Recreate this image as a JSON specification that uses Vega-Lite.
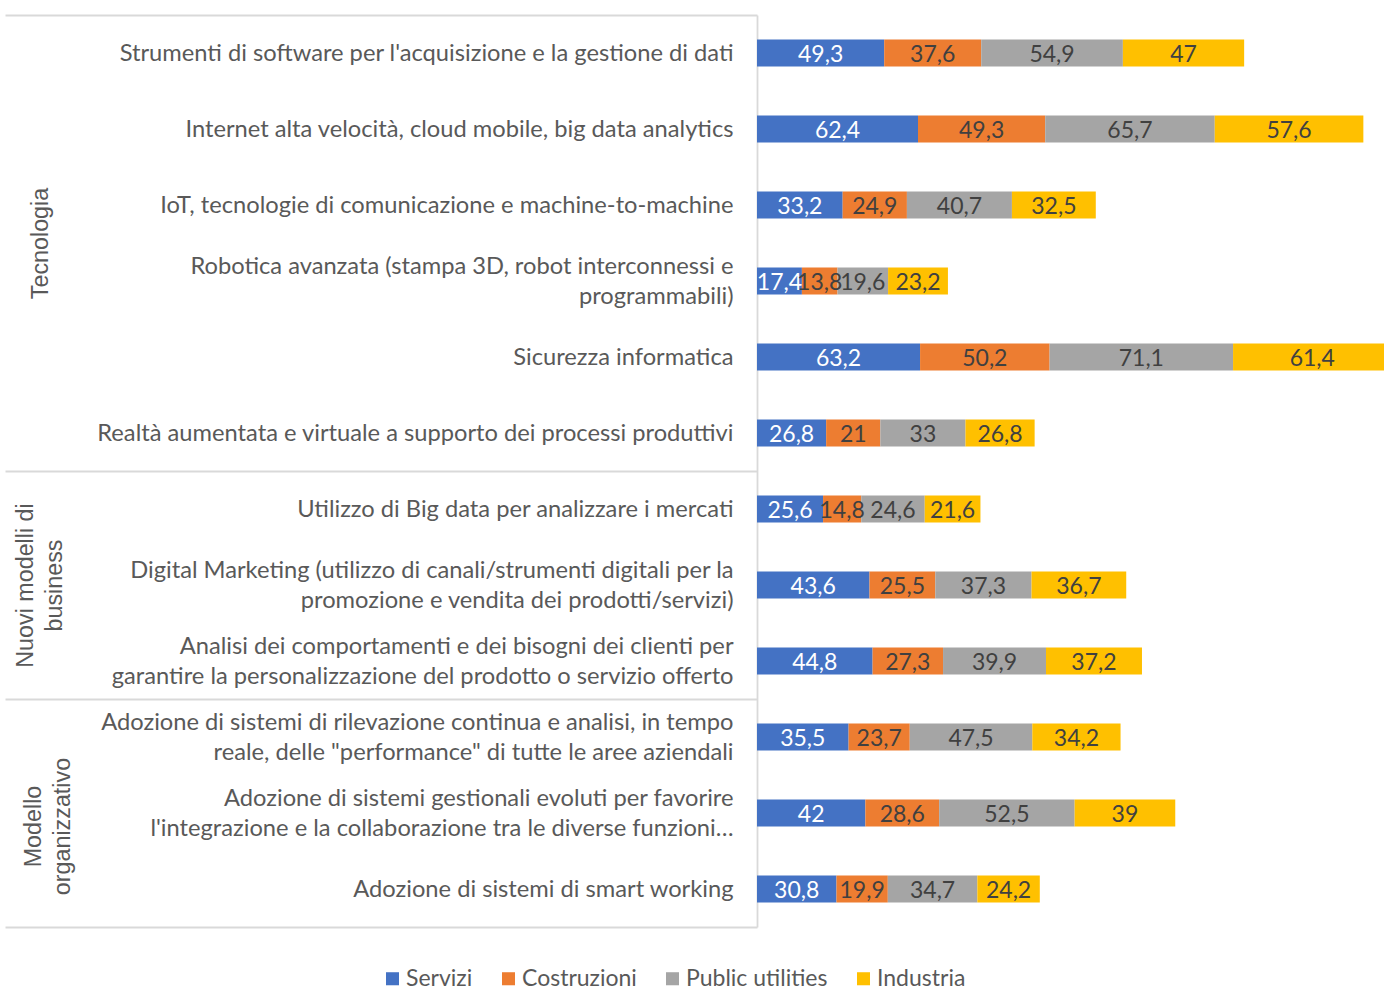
{
  "$schema": "https://vega.github.io/schema/vega-lite/v6.json",
  "width": 627,
  "height": 912,
  "autosize": {"type": "none"},
  "padding": {"left": 757, "top": 15, "right": 0, "bottom": 64},
  "background": "white",
  "config": {
    "view": {"stroke": null},
    "locale": {"number": {"decimal": ",", "thousands": ".", "grouping": [3], "currency": ["", " €"]}}
  },
  "data": {
    "values": [
      {"item": "Strumenti di software per l'acquisizione e la gestione di dati", "Servizi": 49.3, "Costruzioni": 37.6, "Public utilities": 54.9, "Industria": 47},
      {"item": "Internet alta velocità, cloud mobile, big data analytics", "Servizi": 62.4, "Costruzioni": 49.3, "Public utilities": 65.7, "Industria": 57.6},
      {"item": "IoT, tecnologie di comunicazione e machine-to-machine", "Servizi": 33.2, "Costruzioni": 24.9, "Public utilities": 40.7, "Industria": 32.5},
      {"item": "Robotica avanzata (stampa 3D, robot interconnessi e|programmabili)", "Servizi": 17.4, "Costruzioni": 13.8, "Public utilities": 19.6, "Industria": 23.2},
      {"item": "Sicurezza informatica", "Servizi": 63.2, "Costruzioni": 50.2, "Public utilities": 71.1, "Industria": 61.4},
      {"item": "Realtà aumentata e virtuale a supporto dei processi produttivi", "Servizi": 26.8, "Costruzioni": 21, "Public utilities": 33, "Industria": 26.8},
      {"item": "Utilizzo di Big data per analizzare i mercati", "Servizi": 25.6, "Costruzioni": 14.8, "Public utilities": 24.6, "Industria": 21.6},
      {"item": "Digital Marketing (utilizzo di canali/strumenti digitali per la|promozione e vendita dei prodotti/servizi)", "Servizi": 43.6, "Costruzioni": 25.5, "Public utilities": 37.3, "Industria": 36.7},
      {"item": "Analisi dei comportamenti e dei bisogni dei clienti per|garantire la personalizzazione del prodotto o servizio offerto", "Servizi": 44.8, "Costruzioni": 27.3, "Public utilities": 39.9, "Industria": 37.2},
      {"item": "Adozione di sistemi di rilevazione continua e analisi, in tempo|reale, delle \"performance\" di tutte le aree aziendali", "Servizi": 35.5, "Costruzioni": 23.7, "Public utilities": 47.5, "Industria": 34.2},
      {"item": "Adozione di sistemi gestionali evoluti per favorire|l'integrazione e la collaborazione tra le diverse funzioni…", "Servizi": 42, "Costruzioni": 28.6, "Public utilities": 52.5, "Industria": 39},
      {"item": "Adozione di sistemi di smart working", "Servizi": 30.8, "Costruzioni": 19.9, "Public utilities": 34.7, "Industria": 24.2}
    ]
  },
  "transform": [
    {"fold": ["Servizi", "Costruzioni", "Public utilities", "Industria"], "as": ["serie", "valore"]},
    {"window": [{"op": "row_number", "as": "ordine"}], "groupby": ["item"]}
  ],
  "layer": [
    {
      "mark": {"type": "bar", "clip": true},
      "encoding": {
        "y": {
          "field": "item", "type": "nominal", "sort": null,
          "scale": {"paddingInner": 0.645, "paddingOuter": 0.3225},
          "axis": {
            "title": null, "orient": "left",
            "labelExpr": "split(datum.label, '|')",
            "labelFont": "Lato", "labelFontSize": 23.7, "labelColor": "#595959",
            "labelLimit": 0, "labelLineHeight": 30.5,
            "ticks": true,
            "tickSize": {"condition": {"test": "datum.value === 'Adozione di sistemi di smart working'", "value": 752}, "value": 0},
            "labelPadding": {"condition": {"test": "datum.value === 'Adozione di sistemi di smart working'", "value": -728}, "value": 24},
            "tickOffset": 38,
            "labelOffset": {"condition": {"test": "indexof(datum.value, '|') >= 0", "value": -53}, "value": -38},
            "tickColor": "#d9d9d9", "tickWidth": 1.8,
            "domainColor": "#d9d9d9", "domainWidth": 1.8
          }
        },
        "x": {"field": "valore", "type": "quantitative", "stack": "zero", "scale": {"domain": [0, 243], "nice": false}, "axis": null},
        "order": {"field": "ordine", "type": "quantitative"},
        "color": {
          "field": "serie", "type": "nominal",
          "sort": ["Servizi", "Costruzioni", "Public utilities", "Industria"],
          "scale": {"domain": ["Servizi", "Costruzioni", "Public utilities", "Industria"], "range": ["#4472C4", "#ED7D31", "#A5A5A5", "#FFC000"]},
          "legend": {
            "orient": "none", "legendX": -376, "legendY": 952, "direction": "horizontal",
            "title": null, "symbolType": "square", "symbolSize": 170, "symbolStrokeWidth": 0,
            "labelFont": "Lato", "labelFontSize": 23, "labelColor": "#595959",
            "columnPadding": 24, "labelOffset": 2, "padding": 0
          }
        }
      }
    },
    {
      "mark": {"type": "text", "font": "Lato", "fontSize": 23, "baseline": "middle", "align": "center", "dy": 2},
      "encoding": {
        "y": {
          "field": "item", "type": "nominal", "sort": null,
          "axis": {
            "title": null, "orient": "left",
            "values": [
              "Strumenti di software per l'acquisizione e la gestione di dati",
              "Utilizzo di Big data per analizzare i mercati",
              "Adozione di sistemi di rilevazione continua e analisi, in tempo|reale, delle \"performance\" di tutte le aree aziendali"
            ],
            "domain": false, "ticks": true, "tickSize": 752, "tickColor": "#d9d9d9", "tickWidth": 1.8, "tickOffset": -38,
            "labelExpr": "indexof(datum.value, 'Strumenti') === 0 ? 'Tecnologia' : indexof(datum.value, 'Utilizzo') === 0 ? ['Nuovi modelli di', 'business'] : ['Modello', 'organizzativo']",
            "labelAngle": 270, "labelAlign": "center", "labelBaseline": "middle",
            "labelFont": "Liberation Sans", "labelFontSize": 23.3, "labelColor": "#595959", "labelLineHeight": 29.5,
            "labelPadding": {"condition": [{"test": "indexof(datum.value, 'Strumenti') === 0", "value": -35}, {"test": "indexof(datum.value, 'Utilizzo') === 0", "value": -20}], "value": -28},
            "labelLimit": 0,
            "labelOffset": {"condition": [{"test": "indexof(datum.value, 'Strumenti') === 0", "value": 228}, {"test": "indexof(datum.value, 'Utilizzo') === 0", "value": 114}], "value": 127}
          }
        },
        "x": {"field": "valore", "type": "quantitative", "stack": "zero", "bandPosition": 0.5},
        "order": {"field": "ordine", "type": "quantitative"},
        "color": {
          "field": "serie", "type": "nominal",
          "sort": ["Servizi", "Costruzioni", "Public utilities", "Industria"],
          "scale": {"domain": ["Servizi", "Costruzioni", "Public utilities", "Industria"], "range": ["#ffffff", "#404040", "#404040", "#404040"]},
          "legend": null
        },
        "text": {"field": "valore", "type": "quantitative", "format": "~g"}
      }
    }
  ],
  "resolve": {"axis": {"y": "independent"}, "scale": {"color": "independent"}}
}
